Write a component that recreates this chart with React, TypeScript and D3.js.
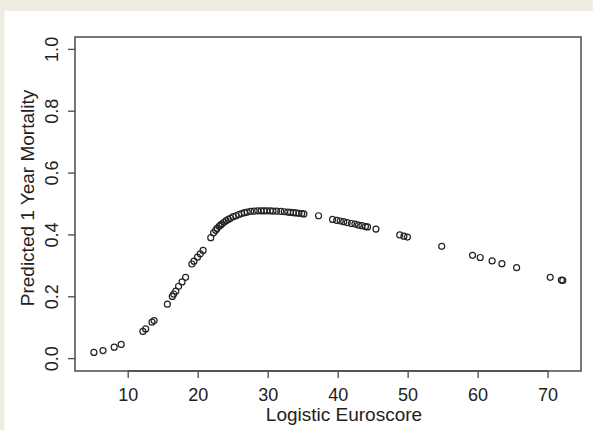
import React from "react";
import * as d3 from "d3";

const euroscore: number[] = [
  5.1, 6.4, 8.0, 9.0, 12.1, 12.5, 13.4, 13.7, 15.6, 16.3, 16.5, 16.8, 17.2, 17.7, 18.2,
  19.1, 19.4, 19.9, 20.3, 20.7, 21.8, 22.2, 22.5, 22.7, 23.0, 23.2, 23.4, 23.7, 24.0,
  24.3, 24.6, 25.0, 25.4, 25.8, 26.2, 26.6, 27.0, 27.5, 28.0, 28.5, 29.0, 29.4, 29.8,
  30.3, 30.7, 31.2, 31.8, 32.3, 32.8, 33.2, 33.6, 34.0, 34.4, 34.8, 35.1, 37.2, 39.2,
  39.8, 40.3, 40.8, 41.3, 41.9, 42.4, 42.9, 43.4, 43.9, 44.2, 45.4, 48.8, 49.4, 49.9,
  54.8, 59.2, 60.3, 62.0, 63.4, 65.5, 70.3, 71.9, 72.1,
];
const mortality: number[] = [
  0.02, 0.026, 0.037, 0.046, 0.088, 0.096, 0.118, 0.123, 0.176, 0.201, 0.209, 0.218, 0.234, 0.248, 0.263,
  0.306, 0.315, 0.328, 0.339, 0.35, 0.391, 0.407, 0.415, 0.421, 0.428, 0.432, 0.436, 0.441, 0.446,
  0.45, 0.454, 0.459, 0.462, 0.466, 0.469, 0.472, 0.474, 0.476, 0.477, 0.478, 0.478, 0.478, 0.478,
  0.478, 0.477, 0.477, 0.476, 0.475, 0.474, 0.473, 0.472, 0.471, 0.47, 0.469, 0.468, 0.462, 0.45,
  0.447, 0.445, 0.443, 0.44, 0.437, 0.435, 0.432, 0.43, 0.427, 0.426, 0.419, 0.4, 0.396, 0.393,
  0.363, 0.334, 0.327, 0.316, 0.307, 0.294, 0.263, 0.254, 0.253,
];
const xTicks: number[] = [10, 20, 30, 40, 50, 60, 70];
const yTicks: number[] = [0, 0.2, 0.4, 0.6, 0.8, 1.0];
const xTitle = "Logistic Euroscore";
const yTitle = "Predicted 1 Year Mortality";

const W = 593;
const H = 430;
const box = { left: 75, right: 581, top: 37, bottom: 371 };
const FONT = "'Liberation Sans', Arial, Helvetica, sans-serif";

export default function App() {
  const x = d3.scaleLinear().domain([2.4, 74.7]).range([box.left, box.right]);
  const y = d3.scaleLinear().domain([-0.04, 1.04]).range([box.bottom, box.top]);
  const pts = euroscore.map((v, i) => ({ x: v, y: mortality[i] }));
  const ink = "#222";
  return (
    <svg
      width={W}
      height={H}
      style={{ position: "absolute", left: 0, top: 0, display: "block" }}
      fontFamily={FONT}
    >
      <rect x={0} y={0} width={W} height={H} fill="#efece1" />
      <rect x={4.5} y={11} width={W - 4.5} height={H - 11} fill="#ffffff" />
      <rect
        x={box.left}
        y={box.top}
        width={box.right - box.left}
        height={box.bottom - box.top}
        fill="none"
        stroke="#4a4a4a"
        strokeWidth={1.5}
      />
      {/* x axis */}
      <line x1={x(xTicks[0])} x2={x(xTicks[xTicks.length - 1])} y1={box.bottom} y2={box.bottom} stroke="#4a4a4a" strokeWidth={1.5} />
      {xTicks.map((t) => (
        <g key={"x" + t}>
          <line x1={x(t)} x2={x(t)} y1={box.bottom} y2={box.bottom + 7} stroke="#4a4a4a" strokeWidth={1.3} />
          <text x={x(t)} y={box.bottom + 30} textAnchor="middle" fontSize={18} fill={ink}>
            {t}
          </text>
        </g>
      ))}
      <text x={344} y={421} textAnchor="middle" fontSize={19} fill={ink}>
        {xTitle}
      </text>
      {/* y axis */}
      {yTicks.map((t) => (
        <g key={"y" + t}>
          <line x1={box.left - 7} x2={box.left} y1={y(t)} y2={y(t)} stroke="#4a4a4a" strokeWidth={1.3} />
          <text
            transform={`translate(${box.left - 17},${y(t)}) rotate(-90)`}
            textAnchor="middle"
            fontSize={18}
            fill={ink}
          >
            {t.toFixed(1)}
          </text>
        </g>
      ))}
      <text
        transform={`translate(${34},${198}) rotate(-90)`}
        textAnchor="middle"
        fontSize={19}
        fill={ink}
      >
        {yTitle}
      </text>
      {pts.map((p, i) => (
        <circle key={i} cx={x(p.x)} cy={y(p.y)} r={3} fill="none" stroke="#222" strokeWidth={1.2} />
      ))}
    </svg>
  );
}
